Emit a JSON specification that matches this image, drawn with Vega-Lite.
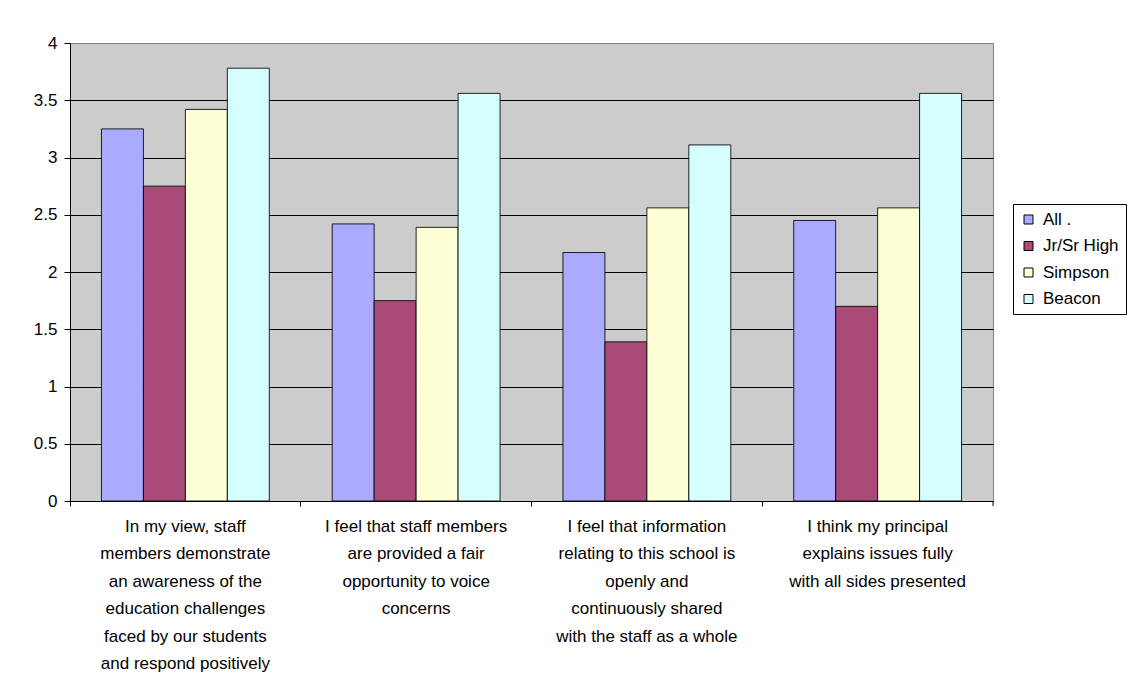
{
  "$schema": "https://vega.github.io/schema/vega-lite/v6.json",
  "width": 923,
  "height": 458,
  "autosize": {"type": "none"},
  "padding": {"left": 70, "top": 43, "right": 137, "bottom": 195},
  "background": "white",
  "config": {
    "font": "Liberation Sans",
    "view": {"fill": "#CCCCCC", "stroke": "#808080", "strokeWidth": 1}
  },
  "data": {
    "values": [
      {"question": "In my view, staff members demonstrate an awareness of the education challenges faced by our students and respond positively", "school": "All .", "score": 3.25},
      {"question": "In my view, staff members demonstrate an awareness of the education challenges faced by our students and respond positively", "school": "Jr/Sr High", "score": 2.75},
      {"question": "In my view, staff members demonstrate an awareness of the education challenges faced by our students and respond positively", "school": "Simpson", "score": 3.42},
      {"question": "In my view, staff members demonstrate an awareness of the education challenges faced by our students and respond positively", "school": "Beacon", "score": 3.78},
      {"question": "I feel that staff members are provided a fair opportunity to voice concerns", "school": "All .", "score": 2.42},
      {"question": "I feel that staff members are provided a fair opportunity to voice concerns", "school": "Jr/Sr High", "score": 1.75},
      {"question": "I feel that staff members are provided a fair opportunity to voice concerns", "school": "Simpson", "score": 2.39},
      {"question": "I feel that staff members are provided a fair opportunity to voice concerns", "school": "Beacon", "score": 3.56},
      {"question": "I feel that information relating to this school is openly and continuously shared with the staff as a whole", "school": "All .", "score": 2.17},
      {"question": "I feel that information relating to this school is openly and continuously shared with the staff as a whole", "school": "Jr/Sr High", "score": 1.39},
      {"question": "I feel that information relating to this school is openly and continuously shared with the staff as a whole", "school": "Simpson", "score": 2.56},
      {"question": "I feel that information relating to this school is openly and continuously shared with the staff as a whole", "school": "Beacon", "score": 3.11},
      {"question": "I think my principal explains issues fully with all sides presented", "school": "All .", "score": 2.45},
      {"question": "I think my principal explains issues fully with all sides presented", "school": "Jr/Sr High", "score": 1.70},
      {"question": "I think my principal explains issues fully with all sides presented", "school": "Simpson", "score": 2.56},
      {"question": "I think my principal explains issues fully with all sides presented", "school": "Beacon", "score": 3.56}
    ]
  },
  "layer": [
    {
      "mark": {"type": "bar", "stroke": "#000000", "strokeWidth": 1, "strokeOpacity": 0.85},
      "encoding": {
        "x": {
          "field": "question",
          "type": "nominal",
          "sort": null,
          "scale": {"paddingInner": 0, "paddingOuter": 0},
          "axis": {
            "title": null,
            "labelAngle": 0,
            "labelFontSize": 17,
            "labelColor": "#000000",
            "labelLimit": 400,
            "labelLineHeight": 27.5,
            "labelBaseline": "top",
            "labelPadding": 12,
            "bandPosition": 0,
            "tickSize": 5,
            "tickColor": "#000000",
            "domainColor": "#000000",
            "labelExpr": "indexof(datum.value, 'In my view') == 0 ? ['In my view, staff', 'members demonstrate', 'an awareness of the', 'education challenges', 'faced by our students', 'and respond positively'] : indexof(datum.value, 'I feel that staff') == 0 ? ['I feel that staff members', 'are provided a fair', 'opportunity to voice', 'concerns'] : indexof(datum.value, 'I feel that information') == 0 ? ['I feel that information', 'relating to this school is', 'openly and', 'continuously shared', 'with the staff as a whole'] : ['I think my principal', 'explains issues fully', 'with all sides presented']"
          }
        },
        "xOffset": {
          "field": "school",
          "type": "nominal",
          "sort": ["All .", "Jr/Sr High", "Simpson", "Beacon"],
          "scale": {"paddingInner": 0, "paddingOuter": 0.75}
        },
        "y": {
          "field": "score",
          "type": "quantitative",
          "scale": {"domain": [0, 4], "nice": false},
          "axis": {
            "title": null,
            "values": [0, 0.5, 1, 1.5, 2, 2.5, 3, 3.5, 4],
            "format": "~g",
            "labelFontSize": 17,
            "labelColor": "#000000",
            "labelPadding": 7,
            "tickSize": 6,
            "tickColor": "#000000",
            "domainColor": "#000000",
            "grid": true,
            "gridColor": {"condition": {"test": "datum.value == 4", "value": "#808080"}, "value": "#000000"},
            "gridOpacity": 1,
            "gridWidth": 1
          }
        },
        "color": {
          "field": "school",
          "type": "nominal",
          "sort": ["All .", "Jr/Sr High", "Simpson", "Beacon"],
          "scale": {
            "domain": ["All .", "Jr/Sr High", "Simpson", "Beacon"],
            "range": ["#AAAAFF", "#AA4A78", "#FFFFD6", "#D5FFFF"]
          },
          "legend": {
            "title": null,
            "orient": "none",
            "legendX": 943,
            "legendY": 161,
            "padding": 7,
            "strokeColor": "#000000",
            "fillColor": "#FFFFFF",
            "symbolType": "square",
            "symbolSize": 81,
            "symbolStrokeColor": "#000000",
            "symbolStrokeWidth": 1,
            "symbolOpacity": 1,
            "labelFontSize": 17,
            "labelColor": "#000000",
            "labelOffset": 6,
            "rowPadding": 8.5
          }
        }
      }
    },
    {
      "transform": [
        {"filter": "datum.school == 'All .' && indexof(datum.question, 'I think my principal') == 0"}
      ],
      "mark": {"type": "rule", "color": "#000000", "strokeWidth": 1},
      "encoding": {
        "x": {"field": "question", "type": "nominal", "sort": null, "bandPosition": 1},
        "y": {"datum": 0},
        "y2": {"datum": -0.044}
      }
    }
  ]
}
